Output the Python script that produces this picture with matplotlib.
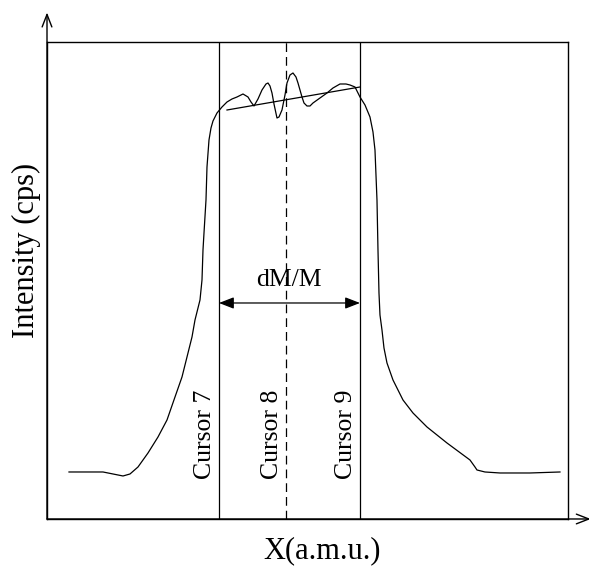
import matplotlib.pyplot as plt

# peak profile (x: arbitrary mass units, y: intensity units)
peak_x = [22, 38, 56, 66, 76, 83, 91, 101, 111, 120, 128, 135, 140, 145, 148, 153,
          155, 156, 157, 159, 160, 162, 164, 166, 170, 175, 180, 185, 190, 196, 201,
          204, 207, 211, 215, 219, 221, 223, 225, 227, 230, 232, 235, 238, 240, 243,
          246, 249, 251, 253, 255, 257, 260, 263, 266, 273, 280, 286, 293, 299, 303,
          308, 313, 318, 323, 326, 328, 329, 330, 331, 332, 333, 335, 337, 340, 346,
          356, 366, 380, 400, 423, 428, 430, 438, 453, 483, 513]
peak_y = [47, 47, 47, 45, 43, 45, 52, 66, 82, 99, 122, 142, 162, 182, 199, 219,
          239, 269, 286, 319, 352, 379, 391, 398, 406, 412, 417, 420, 422, 425, 422,
          417, 413, 420, 429, 435, 436, 433, 426, 415, 401, 402, 409, 424, 436, 444,
          446, 442, 436, 429, 422, 416, 413, 413, 416, 421, 426, 431, 435, 435, 434,
          432, 422, 414, 402, 387, 369, 344, 319, 269, 226, 204, 189, 171, 156, 139,
          119, 106, 92, 76, 59, 52, 49, 47, 46, 46, 47]

# plateau fit line
fit_x = [180, 313]
fit_y = [409, 432]

# cursor positions
cursor_x = [172, 239, 313]
cursor_names = ["Cursor 7", "Cursor 8", "Cursor 9"]
cursor_styles = ["-", (0, (7, 4)), "-"]

plt.rcParams["font.family"] = ["Liberation Serif", "DejaVu Serif"]

fig = plt.figure(figsize=(5.89, 5.69), dpi=100)
ax = fig.add_axes([0.0798, 0.0879, 0.8845, 0.8383])
ax.set_xlim(0, 521)
ax.set_ylim(0, 477)
ax.set_xticks([])
ax.set_yticks([])
for s in ax.spines.values():
    s.set_linewidth(1.0)

# the measured peak and the plateau line
ax.plot(peak_x, peak_y, color="black", lw=0.9)
ax.plot(fit_x, fit_y, color="black", lw=0.9)

# cursors
for cx, name, ls in zip(cursor_x, cursor_names, cursor_styles):
    ax.axvline(cx, color="black", lw=0.9, linestyle=ls)
    ax.text(cx - 3, 40, name, rotation=90, ha="right", va="bottom", fontsize=18.5)

# resolution arrow between cursor 7 and 9
ax.annotate("", xy=(cursor_x[0], 216), xytext=(cursor_x[2], 216),
            arrowprops=dict(arrowstyle="<|-|>,head_length=0.9,head_width=0.35",
                            color="black", lw=0.9, shrinkA=0, shrinkB=0))
ax.text(242, 228, "dM/M", ha="center", va="bottom", fontsize=18.5)

# axis arrows
ax.annotate("", xy=(0.0798, 0.978), xytext=(0.0798, 0.0879), xycoords="figure fraction",
            textcoords="figure fraction",
            arrowprops=dict(arrowstyle="->,head_length=0.9,head_width=0.35",
                            color="black", lw=1.0, shrinkA=0, shrinkB=0))
ax.annotate("", xy=(1.003, 0.0879), xytext=(0.0798, 0.0879), xycoords="figure fraction",
            textcoords="figure fraction",
            arrowprops=dict(arrowstyle="->,head_length=0.9,head_width=0.35",
                            color="black", lw=1.0, shrinkA=0, shrinkB=0))

fig.text(0.547, 0.032, "X(a.m.u.)", ha="center", va="center", fontsize=22)
fig.text(0.045, 0.56, "Intensity (cps)", ha="center", va="center", rotation=90, fontsize=22)

fig.savefig("out.png", dpi=100)
